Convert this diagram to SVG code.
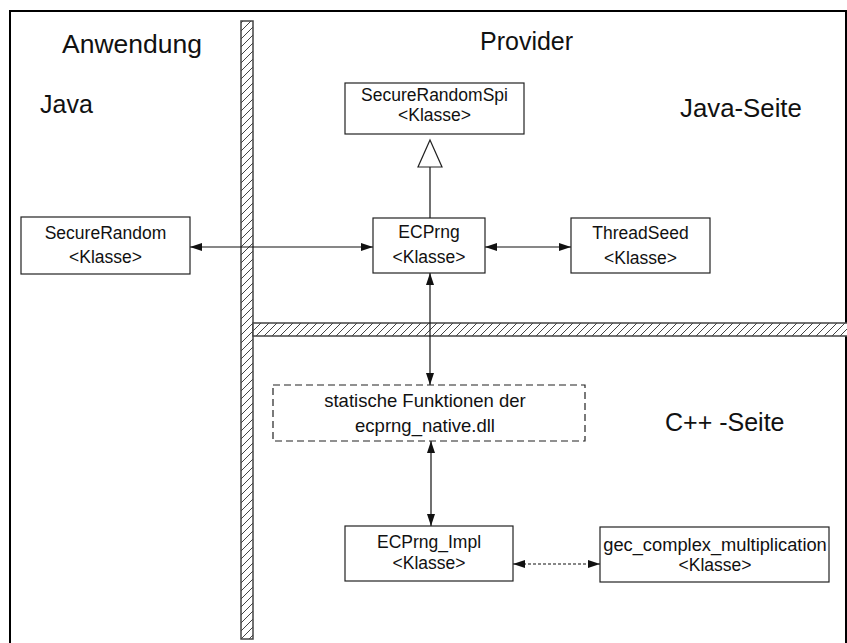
<svg xmlns="http://www.w3.org/2000/svg" width="847" height="643" viewBox="0 0 847 643">
<style>
  .box { fill: #fff; stroke: #222; stroke-width: 1.2; }
  .dbox { fill: #fff; stroke: #222; stroke-width: 1.2; stroke-dasharray: 7,4; }
  .t { font-family: "Liberation Sans", Arial, sans-serif; font-size: 17.5px; fill: #111; text-anchor: middle; }
  .h { font-family: "Liberation Sans", Arial, sans-serif; font-size: 25px; fill: #111; }
  .c { stroke: #111; stroke-width: 1.2; fill: none; }
  .bar { fill: url(#hatch); stroke: #444; stroke-width: 1.5; }
</style>
<defs>
  <pattern id="hatch" patternUnits="userSpaceOnUse" width="8" height="8">
    <rect width="8" height="8" fill="#fff"/>
    <path d="M-1,9 L9,-1 M-3,3 L3,-3 M5,11 L11,5" stroke="#444" stroke-width="1"/>
  </pattern>
  <marker id="arr" viewBox="0 0 12 8" refX="12" refY="4" markerWidth="12" markerHeight="8" markerUnits="userSpaceOnUse" orient="auto-start-reverse">
    <path d="M0,0 L12,4 L0,8 Z" fill="#111"/>
  </marker>
</defs>
<rect width="847" height="643" fill="#fff"/>
<rect x="10" y="11" width="836" height="645" fill="none" stroke="#000" stroke-width="2"/>

<g id="barriers">
  <rect class="bar" x="241" y="21" width="12" height="618"/>
  <rect class="bar" x="253" y="323" width="596" height="13"/>
</g>

<g id="labels">
  <text class="h" x="62" y="53" style="font-size:26.5px">Anwendung</text>
  <text class="h" x="480" y="50">Provider</text>
  <text class="h" x="40" y="113">Java</text>
  <text class="h" x="680" y="117" style="font-size:25.8px">Java-Seite</text>
  <text class="h" x="665" y="431">C++ -Seite</text>
</g>

<g id="connectors">
  <line class="c" x1="430" y1="218" x2="430" y2="167"/>
  <path d="M430,140 L442,167 L418,167 Z" fill="#fff" stroke="#222" stroke-width="1.2"/>
  <line class="c" x1="190" y1="247" x2="373" y2="247" marker-start="url(#arr)" marker-end="url(#arr)"/>
  <line class="c" x1="485" y1="247" x2="571" y2="247" marker-start="url(#arr)" marker-end="url(#arr)"/>
  <line class="c" x1="430" y1="273" x2="430" y2="385" marker-start="url(#arr)" marker-end="url(#arr)"/>
  <line class="c" x1="431" y1="441" x2="431" y2="526" marker-start="url(#arr)" marker-end="url(#arr)"/>
  <line class="c" x1="513" y1="564" x2="600" y2="564" stroke-dasharray="3,2" marker-start="url(#arr)" marker-end="url(#arr)"/>
</g>

<g id="SecureRandomSpi">
  <rect class="box" x="345" y="83" width="179" height="51"/>
  <text class="t" x="434.5" y="101">SecureRandomSpi</text>
  <text class="t" x="434.5" y="121">&lt;Klasse&gt;</text>
</g>
<g id="SecureRandom">
  <rect class="box" x="21" y="217" width="169" height="57"/>
  <text class="t" x="105.5" y="239">SecureRandom</text>
  <text class="t" x="105.5" y="263">&lt;Klasse&gt;</text>
</g>
<g id="ECPrng">
  <rect class="box" x="373" y="218" width="112" height="55"/>
  <text class="t" x="429" y="238">ECPrng</text>
  <text class="t" x="429" y="263">&lt;Klasse&gt;</text>
</g>
<g id="ThreadSeed">
  <rect class="box" x="571" y="218" width="139" height="55"/>
  <text class="t" x="640.5" y="239">ThreadSeed</text>
  <text class="t" x="640.5" y="264">&lt;Klasse&gt;</text>
</g>
<g id="NativeFunctions">
  <rect class="dbox" x="273" y="385" width="312" height="56"/>
  <text class="t" x="425" y="407" style="font-size:18.5px">statische Funktionen der</text>
  <text class="t" x="425" y="432" style="font-size:18.5px">ecprng_native.dll</text>
</g>
<g id="ECPrng_Impl">
  <rect class="box" x="345" y="526" width="168" height="55"/>
  <text class="t" x="429" y="548">ECPrng_Impl</text>
  <text class="t" x="429" y="569">&lt;Klasse&gt;</text>
</g>
<g id="gec_complex_multiplication">
  <rect class="box" x="600" y="527" width="229" height="55"/>
  <text class="t" x="715" y="551" style="font-size:18.3px">gec_complex_multiplication</text>
  <text class="t" x="715" y="571">&lt;Klasse&gt;</text>
</g>
</svg>
